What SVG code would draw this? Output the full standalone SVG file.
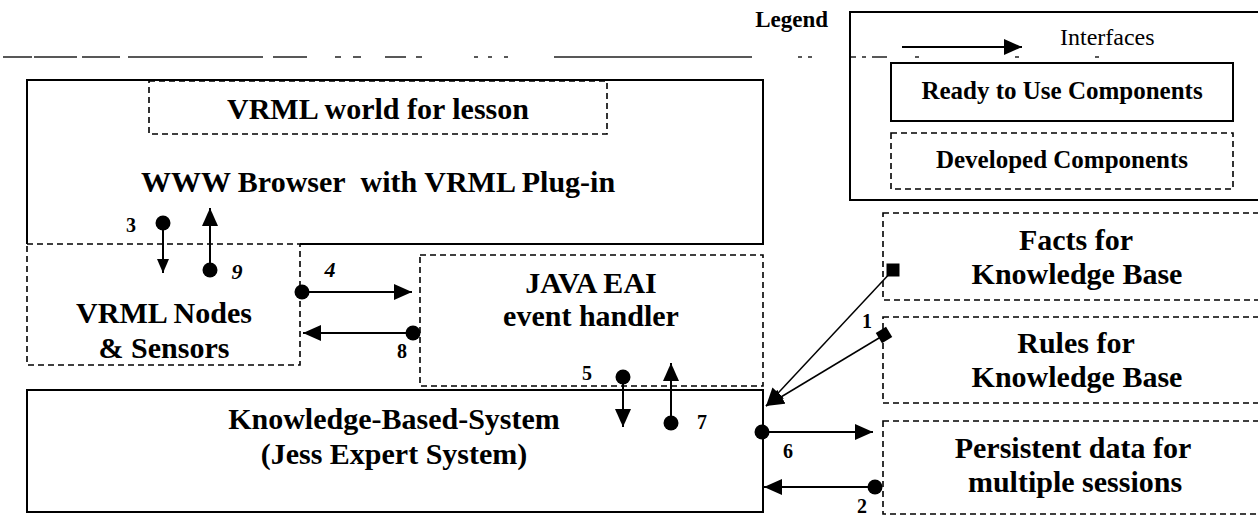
<svg xmlns="http://www.w3.org/2000/svg" width="1258" height="516" viewBox="0 0 1258 516">
<style>
text{font-family:"Liberation Serif","Times New Roman",serif;font-weight:bold;fill:#000}
.big{font-size:30px;text-anchor:middle}
.leg{font-size:25px;text-anchor:middle}
.num{font-size:20px;text-anchor:middle}
.hand{font-size:22px;font-style:italic;text-anchor:middle}
.solid{fill:none;stroke:#000;stroke-width:2}
.dash{fill:none;stroke:#000;stroke-width:1.6;stroke-dasharray:6 4}
.conn{fill:none;stroke:#000;stroke-width:2}
.thin{fill:none;stroke:#000;stroke-width:1.5}
</style>
<defs>
<marker id="arr" markerUnits="userSpaceOnUse" markerWidth="20" markerHeight="18" refX="18" refY="8" orient="auto">
<path d="M0,0 L18,8 L0,16 z" fill="#000"/>
</marker>
<marker id="arrS" markerUnits="userSpaceOnUse" markerWidth="16" markerHeight="14" refX="14" refY="6" orient="auto">
<path d="M0,0 L14,6 L0,12 z" fill="#000"/>
</marker>
<marker id="dot" markerUnits="userSpaceOnUse" markerWidth="18" markerHeight="18" refX="9" refY="9" orient="auto">
<circle cx="9" cy="9" r="7.5" fill="#000"/>
</marker>
<marker id="sq" markerUnits="userSpaceOnUse" markerWidth="16" markerHeight="16" refX="8" refY="8" orient="0">
<rect x="1.5" y="1.5" width="13" height="13" fill="#000"/>
</marker>
<marker id="sqR" markerUnits="userSpaceOnUse" markerWidth="16" markerHeight="16" refX="8" refY="8" orient="auto">
<rect x="2" y="2" width="12" height="12" fill="#000"/>
</marker>
</defs>

<path d="M3,57 H32 M34,57 H77 M82,57 H120 M128,57 H263 M273,57 H307 M335,57 H341 M353,57 H361 M385,57 H406 M416,57 H422 M474,57 H478 M488,57 H492 M504,57 H508 M554,57 H752 M798,57 H802 M808,57 H812 M850,57 H856 M862,57 H866 M872,57 H887 M915,57 H919 M1015,57 H1019 M1095,57 H1099" fill="none" stroke="#222" stroke-width="1.5"/>

<g id="legend">
<text x="828" y="27" text-anchor="end" style="font-size:23px">Legend</text>
<rect x="850" y="12" width="420" height="188" class="solid"/>
<line x1="902" y1="47" x2="1022" y2="47" class="conn" marker-end="url(#arr)"/>
<text x="1060" y="45" style="font-size:24px;font-weight:normal">Interfaces</text>
<rect x="891" y="63" width="342" height="58" class="solid"/>
<text x="1062" y="99" class="leg">Ready to Use Components</text>
<rect x="891" y="133" width="342" height="56" class="dash"/>
<text x="1062" y="168" class="leg">Developed Components</text>
</g>

<g id="browser">
<path d="M300,244 H763 V80 H27 V244" class="solid"/>
<text x="378" y="192" class="big">WWW Browser&#160; with VRML Plug-in</text>
</g>

<g id="vrml-world">
<rect x="149" y="81" width="458" height="53" class="dash"/>
<text x="378" y="119" class="big">VRML world for lesson</text>
</g>

<g id="vrml-nodes">
<rect x="27" y="244" width="273" height="121" class="dash"/>
<text x="164" y="323" class="big">VRML Nodes</text>
<text x="164" y="358" class="big">&amp; Sensors</text>
</g>

<g id="java-eai">
<rect x="420" y="255" width="343" height="131" class="dash"/>
<text x="591" y="293" class="big">JAVA EAI</text>
<text x="591" y="326" class="big">event handler</text>
</g>

<g id="kbs">
<rect x="27" y="390" width="736" height="122" class="solid"/>
<text x="394" y="429" class="big">Knowledge-Based-System</text>
<text x="394" y="464" class="big">(Jess Expert System)</text>
</g>

<g id="facts">
<rect x="883" y="213" width="400" height="87" class="dash"/>
<text x="1076" y="250" class="big">Facts for</text>
<text x="1077" y="284" class="big">Knowledge Base</text>
</g>

<g id="rules">
<rect x="883" y="317" width="400" height="86" class="dash"/>
<text x="1076" y="353" class="big">Rules for</text>
<text x="1077" y="387" class="big">Knowledge Base</text>
</g>

<g id="persistent">
<rect x="883" y="421" width="400" height="93" class="dash"/>
<text x="1073" y="458" class="big">Persistent data for</text>
<text x="1075" y="492" class="big">multiple sessions</text>
</g>

<g id="connectors">
<line x1="163" y1="223" x2="163" y2="273" class="conn" marker-start="url(#dot)" marker-end="url(#arrS)"/>
<line x1="210" y1="270" x2="210" y2="208" class="conn" marker-start="url(#dot)" marker-end="url(#arr)"/>
<line x1="302" y1="292" x2="412" y2="292" class="conn" marker-start="url(#dot)" marker-end="url(#arr)"/>
<line x1="413" y1="333" x2="303" y2="333" class="conn" marker-start="url(#dot)" marker-end="url(#arr)"/>
<line x1="623" y1="377" x2="623" y2="427" class="conn" marker-start="url(#dot)" marker-end="url(#arr)"/>
<line x1="671" y1="423" x2="671" y2="363" class="conn" marker-start="url(#dot)" marker-end="url(#arr)"/>
<line x1="762" y1="432" x2="873" y2="432" class="conn" marker-start="url(#dot)" marker-end="url(#arr)"/>
<line x1="875" y1="487" x2="764" y2="487" class="conn" marker-start="url(#dot)" marker-end="url(#arr)"/>
<line x1="893" y1="270" x2="766" y2="406" class="thin" marker-start="url(#sq)" marker-end="url(#arr)"/>
<line x1="884" y1="335" x2="766" y2="406" class="thin" marker-start="url(#sqR)" marker-end="url(#arr)"/>
<text x="131" y="232" class="num">3</text>
<text x="237" y="279" class="hand">9</text>
<text x="330" y="277" class="hand">4</text>
<text x="402" y="358" class="num">8</text>
<text x="587" y="380" class="num">5</text>
<text x="702" y="429" class="num">7</text>
<text x="788" y="458" class="num">6</text>
<text x="867" y="328" class="num">1</text>
<text x="862" y="513" class="num">2</text>
</g>
</svg>
